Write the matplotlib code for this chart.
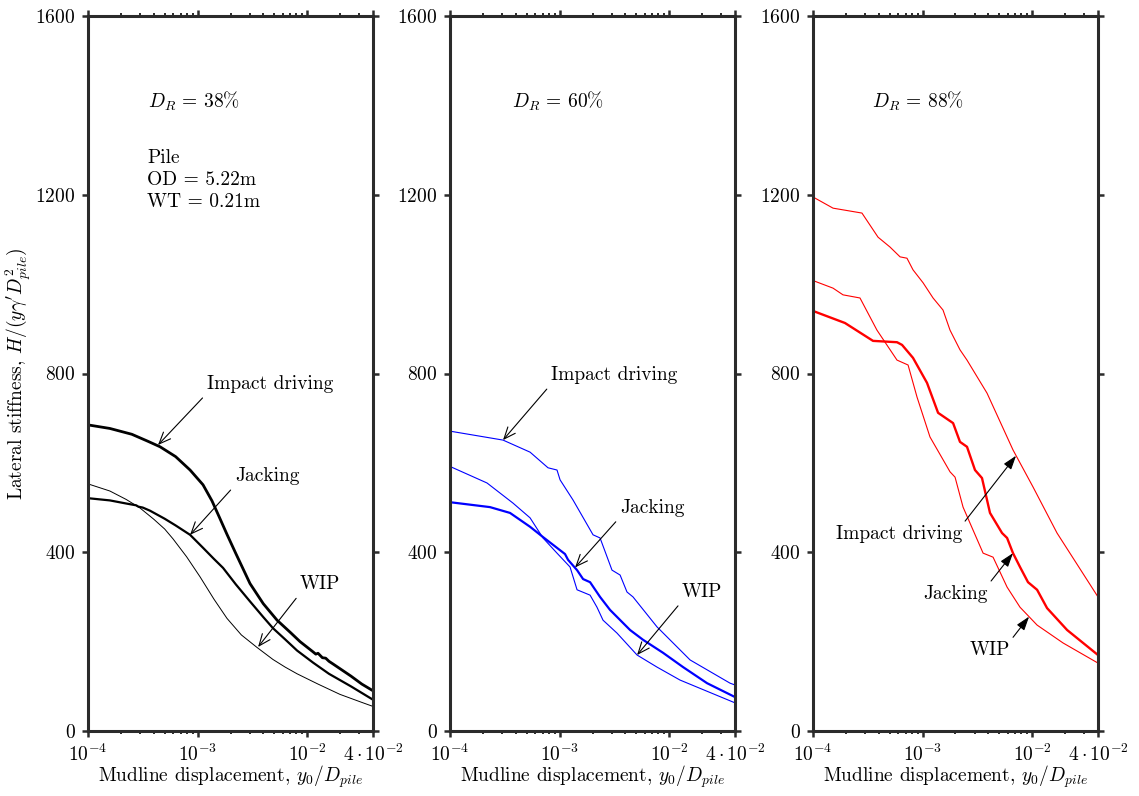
import numpy as np
import matplotlib
matplotlib.use('Agg')
import matplotlib.pyplot as plt
from matplotlib.ticker import FixedLocator, FixedFormatter, LogLocator, NullFormatter

plt.rcParams['font.family'] = 'serif'
plt.rcParams['font.serif'] = ['cmr10']
plt.rcParams['mathtext.fontset'] = 'cm'
plt.rcParams['axes.formatter.use_mathtext'] = True
plt.rcParams['axes.unicode_minus'] = False

# data: x as log10(y0/D), y as lateral stiffness
# D_R = 38%
imp38_logx = [-4.0, -3.8, -3.6, -3.45, -3.342, -3.2, -3.068, -2.95, -2.868, -2.8, -2.731, -2.65, -2.521, -2.4, -2.274,
              -2.15, -2.064, -1.95, -1.92, -1.90, -1.86, -1.83, -1.80, -1.763, -1.60, -1.50, -1.398]
imp38_y = [685, 677, 664, 648, 636, 614, 584, 551, 515, 478, 440, 397, 330, 285, 248,
           220, 200, 178, 172, 174, 164, 163, 156, 150, 123, 105, 90]
jack38_logx = [-4.0, -3.8, -3.65, -3.56, -3.54, -3.5, -3.434, -3.3, -3.2, -3.068, -2.95, -2.85, -2.767, -2.65, -2.521,
               -2.4, -2.311, -2.2, -2.091, -1.945, -1.8, -1.6, -1.398]
jack38_y = [521, 516, 509, 505, 502, 500, 493, 475, 460, 439, 410, 385, 365, 328, 290,
            255, 230, 205, 180, 153, 128, 100, 70]
wip38_logx = [-4.0, -3.8, -3.65, -3.525, -3.4, -3.3, -3.224, -3.1, -2.977, -2.85, -2.731, -2.6, -2.457, -2.311, -2.2,
              -2.091, -1.9, -1.70, -1.5, -1.398]
wip38_y = [553, 537, 518, 499, 474, 452, 430, 390, 345, 295, 252, 215, 187, 160, 143,
           128, 105, 82, 64, 55]

# D_R = 60%
imp60_logx = [-4.0, -3.516, -3.269, -3.105, -3.023, -2.995, -2.877, -2.694, -2.630, -2.521, -2.447, -2.384, -2.329, -2.110, -1.808, -1.443, -1.398]
imp60_y = [671, 651, 624, 589, 584, 562, 517, 439, 432, 360, 349, 311, 300, 233, 159, 107, 103]
jack60_logx = [-4.0, -3.635, -3.452, -3.269, -3.151, -2.950, -2.922, -2.840, -2.785, -2.721, -2.630, -2.539, -2.356, -2.237, -2.055, -1.872, -1.653, -1.398]
jack60_y = [512, 501, 488, 457, 434, 396, 383, 360, 340, 333, 300, 271, 226, 204, 175, 143, 107, 76]
wip60_logx = [-4.0, -3.662, -3.425, -3.269, -3.151, -3.023, -2.904, -2.840, -2.721, -2.658, -2.603, -2.475, -2.292, -2.110, -1.900, -1.398]
wip60_y = [592, 555, 510, 477, 432, 398, 367, 316, 304, 277, 248, 219, 170, 143, 114, 63]

# D_R = 88%
imp88_logx = [-4.0, -3.817, -3.553, -3.406, -3.297, -3.205, -3.142, -3.087, -2.995, -2.904, -2.813, -2.749, -2.658, -2.594, -2.411, -2.174, -1.991, -1.772, -1.398]
imp88_y = [1195, 1170, 1159, 1105, 1083, 1061, 1058, 1032, 1003, 969, 942, 897, 853, 830, 756, 629, 546, 443, 300]
jack88_logx = [-4.0, -3.708, -3.452, -3.233, -3.187, -3.087, -2.959, -2.858, -2.721, -2.658, -2.594, -2.521, -2.457, -2.384, -2.274, -2.228, -2.174, -2.110, -2.037, -1.954, -1.863, -1.680, -1.398]
jack88_y = [940, 913, 873, 870, 864, 835, 779, 712, 689, 647, 636, 584, 566, 488, 443, 432, 398, 367, 333, 316, 275, 226, 170]
wip88_logx = [-4.0, -3.817, -3.726, -3.571, -3.416, -3.233, -3.132, -3.050, -2.932, -2.749, -2.703, -2.630, -2.447, -2.356, -2.228, -2.110, -1.954, -1.717, -1.398]
wip88_y = [1008, 991, 976, 969, 897, 830, 819, 747, 658, 580, 568, 501, 398, 389, 322, 277, 237, 197, 152]

xtick_vals = [1e-4, 1e-3, 1e-2, 4e-2]
xtick_labels = [r'$10^{-4}$', r'$10^{-3}$', r'$10^{-2}$', r'$4\cdot10^{-2}$']
ytick_vals = [0, 400, 800, 1200, 1600]

spine_col = '#2b2b2b'
fs = 14

fig = plt.figure(figsize=(11.39, 7.96), dpi=100)
lefts = [88/1139, 450/1139, 813/1139]
axes = [fig.add_axes([l, 1-731/796, 285/1139, 715/796]) for l in lefts]

def style(ax):
    ax.set_xscale('log')
    ax.set_xlim(1e-4, 4e-2)
    ax.set_ylim(0, 1600)
    ax.xaxis.set_major_locator(FixedLocator(xtick_vals))
    ax.xaxis.set_major_formatter(FixedFormatter(xtick_labels))
    ax.xaxis.set_minor_locator(LogLocator(base=10, subs=np.arange(2, 10), numticks=20))
    ax.xaxis.set_minor_formatter(NullFormatter())
    ax.set_yticks(ytick_vals)
    for s in ax.spines.values():
        s.set_linewidth(2.2)
        s.set_color(spine_col)
    ax.tick_params(which='both', direction='out', top=True, right=True,
                   color=spine_col, labelsize=fs)
    ax.tick_params(which='major', length=4, width=1.8, pad=5)
    ax.tick_params(which='minor', length=2.5, width=1.4)
    ax.set_xlabel(r'Mudline displacement, $y_0/D_{pile}$', fontsize=fs, labelpad=-1)

def ann_left(ax, txt, head, tail, style_='->'):
    ax.annotate(txt, xy=(10**head[0], head[1]), xytext=(10**tail[0], tail[1]),
                ha='left', va='bottom', fontsize=fs,
                arrowprops=dict(arrowstyle=style_ + ',head_length=0.6,head_width=0.25',
                                color='k', lw=0.8, shrinkA=2, shrinkB=0, relpos=(0, 0)))

def ann_right(ax, txt, head, tail):
    ax.annotate(txt, xy=(10**head[0], head[1]), xytext=(10**tail[0], tail[1]),
                ha='right', va='top', fontsize=fs,
                arrowprops=dict(arrowstyle='-|>,head_length=0.6,head_width=0.2',
                                color='k', lw=0.8, shrinkA=1, shrinkB=0, relpos=(1, 1)))

# panel 1
ax = axes[0]
style(ax)
ax.plot(10**np.array(imp38_logx), imp38_y, color='k', lw=2.0)
ax.plot(10**np.array(jack38_logx), jack38_y, color='k', lw=1.6)
ax.plot(10**np.array(wip38_logx), wip38_y, color='k', lw=0.7)
ax.set_ylabel(r"Lateral stiffness, $H/(y\gamma' D_{pile}^{2})$", fontsize=fs, labelpad=1.5)
ax.text(10**-3.452, 1408, r'$D_R\,=\,38\%$', fontsize=fs, ha='left', va='center')
ax.text(10**-3.461, 1282, 'Pile', fontsize=fs, ha='left', va='center')
ax.text(10**-3.461, 1233, 'OD = 5.22m', fontsize=fs, ha='left', va='center')
ax.text(10**-3.461, 1184, 'WT = 0.21m', fontsize=fs, ha='left', va='center')
ann_left(ax, 'Impact driving', (-3.361, 640), (-2.913, 756))
ann_left(ax, 'Jacking', (-3.068, 439), (-2.658, 550))
ann_left(ax, 'WIP', (-2.447, 188), (-2.064, 308))

# panel 2
ax = axes[1]
style(ax)
ax.plot(10**np.array(imp60_logx), imp60_y, color='#0000ff', lw=0.8)
ax.plot(10**np.array(jack60_logx), jack60_y, color='#0000ff', lw=1.6)
ax.plot(10**np.array(wip60_logx), wip60_y, color='#0000ff', lw=0.8)
ax.text(10**-3.43, 1408, r'$D_R\,=\,60\%$', fontsize=fs, ha='left', va='center')
ann_left(ax, 'Impact driving', (-3.516, 651), (-3.078, 776))
ann_left(ax, 'Jacking', (-2.858, 366), (-2.447, 479))
ann_left(ax, 'WIP', (-2.292, 170), (-1.881, 291))

# panel 3
ax = axes[2]
style(ax)
ax.plot(10**np.array(imp88_logx), imp88_y, color='#ff0000', lw=0.8)
ax.plot(10**np.array(jack88_logx), jack88_y, color='#ff0000', lw=1.7)
ax.plot(10**np.array(wip88_logx), wip88_y, color='#ff0000', lw=0.8)
ax.text(10**-3.461, 1408, r'$D_R\,=\,88\%$', fontsize=fs, ha='left', va='center')
ann_right(ax, 'Impact driving', (-2.146, 616), (-2.639, 461))
ann_right(ax, 'Jacking', (-2.174, 398), (-2.402, 327))
ann_right(ax, 'WIP', (-2.027, 256), (-2.201, 201))

fig.savefig('out.png', dpi=100)
